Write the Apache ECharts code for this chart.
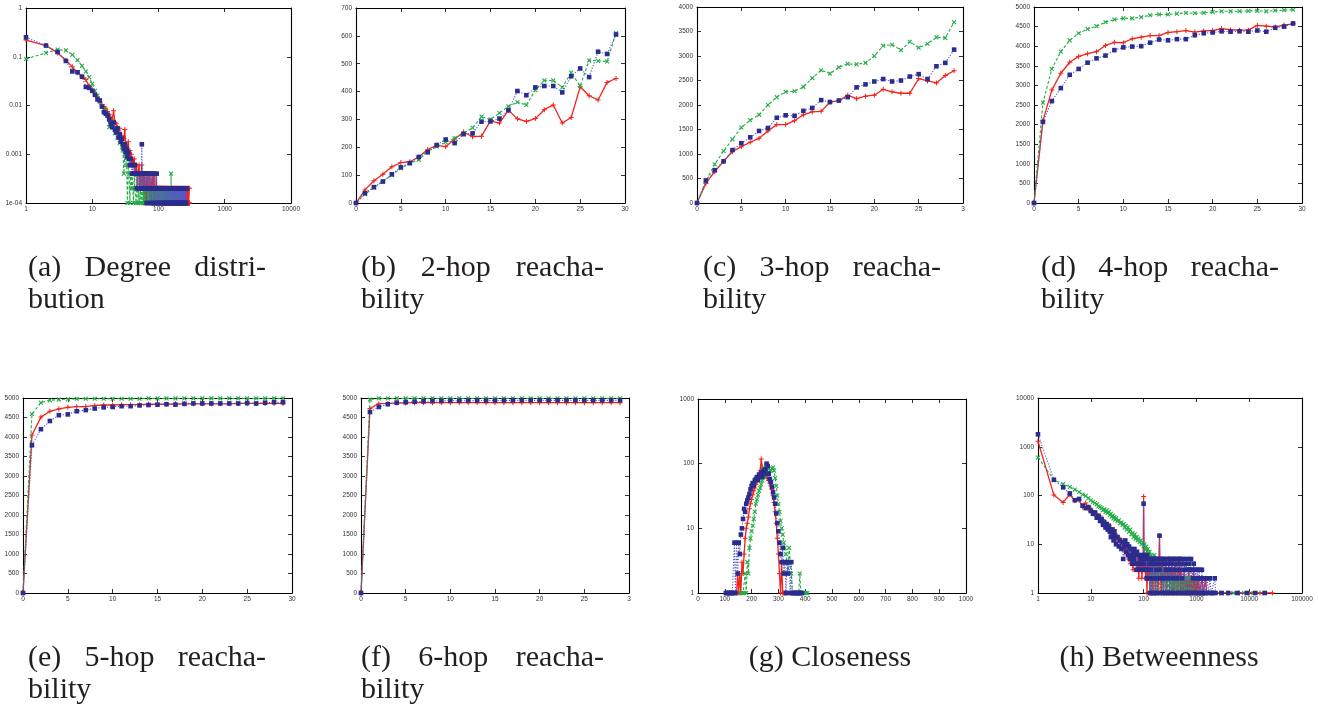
<!DOCTYPE html>
<html><head><meta charset="utf-8">
<script src="https://cdn.jsdelivr.net/npm/echarts@6/dist/echarts.min.js"></script>
<style>html,body{margin:0;padding:0;background:#fff}#c{width:1318px;height:711px}</style>
</head><body><div id="c"></div>
<script>
// ---------------- DATA ----------------
const hops = [0,1,2,3,4,5,6,7,8,9,10,11,12,13,14,15,16,17,18,19,20,21,22,23,24,25,26,27,28,29];

const reach2Red   = [0,47,80,103,130,145,148,165,192,207,202,230,255,238,240,295,287,333,302,293,303,335,352,287,307,417,385,370,433,447];
const reach2Green = [0,32,55,78,100,125,143,155,185,203,218,232,250,270,310,300,323,347,362,352,405,440,440,415,468,420,512,510,508,610];
const reach2Blue  = [0,35,57,77,103,128,143,165,182,208,228,215,247,250,292,293,303,333,402,387,415,420,420,397,455,483,452,543,535,605];

const reach3Red   = [0,400,640,850,1050,1150,1240,1320,1470,1600,1600,1680,1800,1860,1870,2060,2090,2200,2130,2180,2200,2320,2270,2240,2240,2540,2490,2450,2600,2700];
const reach3Green = [0,450,790,1060,1300,1540,1690,1800,2000,2160,2270,2280,2370,2550,2710,2640,2770,2840,2830,2860,3000,3210,3230,3120,3290,3170,3250,3380,3370,3690];
const reach3Blue  = [0,460,670,850,1080,1220,1340,1470,1530,1740,1790,1780,1880,1940,2100,2060,2090,2160,2360,2420,2480,2530,2480,2500,2580,2630,2530,2790,2860,3130];

const reach4Red   = [0,2100,2880,3310,3590,3740,3810,3860,4020,4100,4090,4190,4230,4270,4270,4350,4370,4400,4360,4390,4400,4450,4420,4410,4410,4530,4510,4490,4540,4570];
const reach4Green = [0,2560,3420,3860,4150,4330,4440,4510,4610,4680,4710,4710,4740,4790,4810,4810,4830,4850,4840,4850,4870,4890,4890,4890,4900,4900,4890,4910,4920,4930];
const reach4Blue  = [0,2070,2600,2930,3270,3420,3580,3690,3760,3900,3970,3990,4000,4090,4170,4150,4180,4180,4280,4330,4350,4380,4370,4380,4370,4400,4370,4470,4500,4580];

const reach5Red   = [0,4050,4510,4660,4720,4760,4780,4780,4810,4820,4820,4830,4830,4830,4840,4840,4840,4850,4850,4850,4850,4850,4850,4850,4860,4860,4860,4860,4860,4860];
const reach5Green = [0,4590,4880,4940,4960,4970,4980,4980,4980,4980,4980,4980,4980,4980,4990,4990,4990,4990,4990,4990,4990,4990,4990,4990,4990,4990,4990,4990,4990,4990];
const reach5Blue  = [0,3790,4200,4410,4560,4580,4660,4690,4730,4760,4770,4790,4790,4810,4820,4830,4840,4830,4850,4860,4860,4860,4860,4860,4860,4870,4860,4880,4890,4890];

const reach6Red   = [0,4730,4855,4860,4870,4875,4880,4880,4880,4880,4880,4880,4880,4880,4880,4880,4880,4880,4880,4880,4880,4880,4880,4880,4880,4880,4880,4880,4880,4880];
const reach6Green = [0,4960,4990,4990,4990,4990,4990,4990,4990,4990,4990,4990,4990,4990,4990,4990,4990,4990,4990,4990,4990,4990,4990,4990,4990,4990,4990,4990,4990,4990];
const reach6Blue  = [0,4640,4770,4840,4880,4890,4905,4915,4920,4925,4930,4930,4930,4935,4935,4935,4935,4940,4940,4940,4940,4940,4940,4940,4940,4940,4940,4940,4940,4940];

// degree distribution: value for degree 1, 2, 3, ...
const degreeRed = [
0.22,0.17,0.12,0.085,0.062,0.047,0.04,0.034,0.025,0.021,
0.017,0.015,0.012,0.0105,0.0095,0.0088,0.0075,0.0066,0.0058,0.0052,
0.0078,0.0045,0.0042,0.0036,0.0031,0.0034,0.0022,0.0024,0.0019,0.0021,
0.0032,0.0014,0.0016,0.0012,0.0018,0.001,0.0012,8e-4,0.001,6e-4,
8e-4,6e-4,8e-4,4e-4,6e-4,4e-4,6e-4,2e-4,4e-4,4e-4,
6e-4,2e-4,4e-4,2e-4,4e-4,6e-4,2e-4,4e-4,2e-4,1e-4,
4e-4,2e-4,2e-4,1e-4,4e-4,2e-4,1e-4,2e-4,4e-4,2e-4,
2e-4,1e-4,2e-4,4e-4,2e-4,2e-4,1e-4,2e-4,2e-4,4e-4,
2e-4,1e-4,2e-4,2e-4,4e-4,2e-4,1e-4,2e-4,2e-4,1e-4,
2e-4,4e-4,2e-4,1e-4,2e-4,2e-4,1e-4,2e-4,2e-4,1e-4,
2e-4,2e-4,1e-4,2e-4,2e-4,2e-4,1e-4,2e-4,1e-4,2e-4,
2e-4,1e-4,2e-4,2e-4,1e-4,2e-4,2e-4,1e-4,1e-4,2e-4,
2e-4,1e-4,2e-4,1e-4,2e-4,2e-4,1e-4,1e-4,2e-4,1e-4,
2e-4,1e-4,1e-4,2e-4,1e-4,2e-4,1e-4,1e-4,2e-4,1e-4,
1e-4,2e-4,1e-4,2e-4,1e-4,1e-4,2e-4,1e-4,1e-4,2e-4,
1e-4,1e-4,2e-4,1e-4,2e-4,1e-4,1e-4,1e-4,2e-4,1e-4,
1e-4,2e-4,1e-4,1e-4,1e-4,2e-4,1e-4,1e-4,2e-4,1e-4,
1e-4,1e-4,2e-4,1e-4,1e-4,1e-4,2e-4,1e-4,1e-4,1e-4,
2e-4,1e-4,1e-4,1e-4,1e-4,2e-4,1e-4,1e-4,1e-4,2e-4,
1e-4,1e-4,1e-4,1e-4,2e-4,1e-4,1e-4,1e-4,1e-4,2e-4,
1e-4,1e-4,1e-4,2e-4,1e-4,1e-4,1e-4,1e-4,2e-4,1e-4,
1e-4,1e-4,1e-4,1e-4,2e-4,1e-4,1e-4,1e-4,1e-4,1e-4,
2e-4,1e-4,1e-4,1e-4,1e-4,1e-4,2e-4,1e-4,1e-4,1e-4,
1e-4,1e-4,2e-4,1e-4,1e-4,1e-4,1e-4,1e-4,2e-4,1e-4,
1e-4,1e-4,1e-4,1e-4,1e-4,2e-4,1e-4,1e-4,1e-4,1e-4,
1e-4,1e-4,2e-4,1e-4,1e-4,1e-4,1e-4,1e-4,1e-4,2e-4,
1e-4,1e-4,1e-4,1e-4,1e-4,1e-4,2e-4,1e-4,1e-4,1e-4,
1e-4,1e-4,1e-4,1e-4,1e-4,2e-4,1e-4,1e-4,1e-4,1e-4,
1e-4,1e-4,1e-4,1e-4,2e-4,1e-4,1e-4,1e-4,1e-4,1e-4,1e-4,2e-4];
const degreeGreen = [
0.09,0.12,0.14,0.135,0.11,0.085,0.065,0.05,0.038,0.028,
0.02,0.016,0.012,0.0095,0.0085,0.0072,0.006,0.0036,0.0048,0.0041,
0.0035,0.0027,0.0031,0.0022,0.0025,0.0017,0.0019,0.0014,0.0012,4e-4,
0.001,8e-4,6e-4,1e-4,6e-4,4e-4,1e-4,4e-4,2e-4,4e-4,
2e-4,1e-4,4e-4,2e-4,2e-4,1e-4,2e-4,4e-4,1e-4,2e-4,
2e-4,1e-4,2e-4,2e-4,1e-4,4e-4,2e-4,1e-4,2e-4,1e-4,
2e-4,2e-4,1e-4,2e-4,1e-4,2e-4,2e-4,1e-4,2e-4,1e-4,
1e-4,2e-4,2e-4,1e-4,2e-4,1e-4,2e-4,1e-4,2e-4,2e-4,
1e-4,2e-4,1e-4,2e-4,2e-4,1e-4,2e-4,1e-4,1e-4,2e-4,
2e-4,1e-4,2e-4,1e-4,2e-4,2e-4,1e-4,2e-4,1e-4,2e-4,
1e-4,2e-4,1e-4,2e-4,2e-4,1e-4,2e-4,1e-4,2e-4,1e-4,
2e-4,1e-4,2e-4,1e-4,1e-4,2e-4,1e-4,2e-4,1e-4,2e-4,
1e-4,2e-4,1e-4,2e-4,1e-4,1e-4,2e-4,1e-4,2e-4,1e-4,
1e-4,2e-4,1e-4,2e-4,1e-4,2e-4,1e-4,1e-4,2e-4,1e-4,
2e-4,1e-4,1e-4,2e-4,1e-4,2e-4,1e-4,1e-4,2e-4,1e-4,
1e-4,2e-4,1e-4,1e-4,4e-4,1e-4,1e-4,2e-4,1e-4,1e-4,
2e-4,1e-4,1e-4,1e-4,2e-4,1e-4,1e-4,2e-4,1e-4,1e-4,
1e-4,2e-4,1e-4,1e-4,1e-4,2e-4,1e-4,1e-4,1e-4,2e-4,
1e-4,1e-4,1e-4,2e-4,1e-4,1e-4,1e-4,1e-4,2e-4,1e-4,
1e-4,1e-4,2e-4,1e-4,1e-4,1e-4,1e-4,2e-4,1e-4,1e-4,
1e-4,1e-4,2e-4,1e-4,1e-4,1e-4,1e-4,1e-4,2e-4,1e-4,
1e-4,1e-4,1e-4,1e-4,2e-4,1e-4,1e-4,1e-4,1e-4,1e-4,1e-4,2e-4];
const degreeBlue = [
0.25,0.17,0.125,0.082,0.05,0.048,0.039,0.024,0.023,0.02,
0.0165,0.0133,0.0127,0.0095,0.0073,0.0068,0.0063,0.0052,0.0042,0.0036,
0.0045,0.0032,0.0028,0.0034,0.0022,0.0026,0.0018,0.0021,0.0016,0.0013,
0.0016,0.0011,0.0013,9e-4,0.0011,8e-4,6e-4,8e-4,6e-4,4e-4,
6e-4,4e-4,4e-4,6e-4,4e-4,4e-4,2e-4,4e-4,4e-4,2e-4,
4e-4,4e-4,2e-4,4e-4,2e-4,0.0016,4e-4,2e-4,4e-4,2e-4,
4e-4,2e-4,2e-4,4e-4,2e-4,1e-4,4e-4,2e-4,2e-4,4e-4,
2e-4,4e-4,2e-4,1e-4,2e-4,4e-4,2e-4,2e-4,1e-4,2e-4,
4e-4,2e-4,2e-4,1e-4,2e-4,2e-4,4e-4,1e-4,2e-4,2e-4,
2e-4,1e-4,2e-4,4e-4,2e-4,2e-4,1e-4,2e-4,2e-4,1e-4,
2e-4,2e-4,2e-4,1e-4,2e-4,2e-4,2e-4,2e-4,1e-4,2e-4,
2e-4,2e-4,1e-4,2e-4,2e-4,2e-4,2e-4,1e-4,2e-4,2e-4,
1e-4,2e-4,2e-4,2e-4,2e-4,1e-4,2e-4,2e-4,2e-4,1e-4,
2e-4,2e-4,2e-4,2e-4,1e-4,2e-4,2e-4,1e-4,2e-4,2e-4,
2e-4,2e-4,1e-4,2e-4,2e-4,2e-4,1e-4,2e-4,2e-4,2e-4,
2e-4,1e-4,2e-4,2e-4,2e-4,1e-4,2e-4,2e-4,2e-4,2e-4,
1e-4,2e-4,2e-4,1e-4,2e-4,2e-4,2e-4,2e-4,1e-4,2e-4,
2e-4,2e-4,1e-4,2e-4,2e-4,2e-4,2e-4,2e-4,1e-4,2e-4,
2e-4,1e-4,2e-4,2e-4,2e-4,2e-4,1e-4,2e-4,2e-4,2e-4,
1e-4,2e-4,2e-4,2e-4,2e-4,2e-4,1e-4,2e-4,2e-4,1e-4,
2e-4,2e-4,2e-4,2e-4,1e-4,2e-4,2e-4,2e-4,2e-4,1e-4,
2e-4,2e-4,2e-4,1e-4,2e-4,2e-4,2e-4,2e-4,2e-4,1e-4,
2e-4,2e-4,1e-4,2e-4,2e-4,2e-4,2e-4,1e-4,2e-4,2e-4,
2e-4,2e-4,2e-4,1e-4,2e-4,2e-4,2e-4,2e-4,1e-4,2e-4,
2e-4,2e-4,1e-4,2e-4,2e-4,2e-4,2e-4,2e-4,1e-4,2e-4,
2e-4,2e-4,2e-4,1e-4,2e-4,2e-4,2e-4,1e-4,2e-4,2e-4,
2e-4,1e-4,2e-4,2e-4,2e-4];

// closeness histogram: count per closeness bin (null = no node in bin)
const closenessBins = [104,108,112,116,120,124,128,132,136,140,144,148,152,156,160,164,168,172,176,180,184,188,192,196,200,204,208,212,216,220,224,228,232,236,240,244,248,252,256,260,264,268,272,276,280,284,288,292,296,300,304,308,312,316,320,324,328,332,336,340,344,348,352,356,360,364,368,372,376,380,384,388,392,396,400,404,408,412];
const closenessRed = [null,null,null,null,null,null,null,null,null,null,
1,2,1,2,
1,3,2,4,7,10,12,15,20,24,
28,33,38,42,48,52,58,65,78,118,
88,75,70,66,62,60,55,50,45,40,
32,25,18,12,7,4,2,1,3,1,
1,1,1,1,
null,null,null,null,null,null,null,null,null,null,null,null,null,null,null,null,null,null,null,null];
const closenessGreen = [null,null,null,null,null,null,null,null,null,null,null,null,null,null,
1,1,1,1,2,1,3,2,5,7,
9,11,14,18,24,28,33,38,42,48,
55,87,62,66,70,72,75,78,80,84,
88,78,60,45,32,24,18,13,10,8,
6,5,4,3,2,5,3,2,1,1,
1,1,1,1,1,2,1,1,1,1,1,1,1,
null];
const closenessBlue = [1,1,1,1,1,1,1,1,
6,1,6,2,6,4,
8,10,14,20,18,24,27,30,34,40,
45,50,46,55,58,62,56,68,64,72,
62,78,70,82,100,92,70,58,52,44,
36,30,24,17,12,9,6,4,3,5,
2,3,1,3,2,3,1,3,
1,1,1,1,1,1,1,1,1,1,
null,null,null,null,null,null];

// betweenness histogram: [betweenness, count]
const betweennessRed = [[1,1300],[2,102],[3,72],[4,105],[5,78],[6,80],[7,58],[8,70],[9,52],[10,55],[11,45],[12,40],[13,42],[14,35],[15,38],[16,30],[17,32],[18,25],[19,28],[20,22],[21,25],[22,20],[23,18],[24,22],[25,16],[26,18],[27,14],[28,20],[29,12],[30,15],[32,11],[34,14],[36,9],[38,12],[40,8],[42,10],[44,7],[46,9],[48,6],[50,8],[52,5],[54,7],[56,4],[58,6],[60,5],[63,3],[66,6],[69,4],[72,5],[75,3],[78,6],[81,2],[84,5],[87,3],[90,4],[93,2],[96,5],[98,3],[100,95],[103,3],[106,5],[109,2],[112,4],[116,1],[120,5],[124,2],[128,4],[132,1],[136,3],[140,5],[145,1],[150,4],[155,2],[160,5],[165,1],[170,3],[176,2],[182,4],[188,1],[194,3],[200,15],[206,2],[212,4],[219,1],[226,3],[233,5],[240,1],[248,3],[256,2],[264,4],[273,1],[282,3],[291,2],[300,5],[310,1],[320,3],[331,2],[342,4],[353,1],[365,3],[377,1],[390,4],[403,2],[417,1],[431,3],[446,1],[461,2],[477,5],[493,1],[510,3],[528,1],[546,2],[565,1],[584,3],[604,1],[625,2],[646,1],[668,2],[691,1],[715,3],[740,1],[766,2],[793,1],[820,2],[849,1],[879,3],[910,1],[942,2],[975,1],[1010,2],[1050,1],[1100,2],[1150,1],[1210,1],[1280,2],[1350,1],[1420,1],[1500,2],[1560,1],[2000,1],[2800,1],[4000,1],[6500,1],[10000,1],[16000,1],[27500,1]];
const betweennessGreen = [[1,600],[2,210],[3,172],[4,150],[5,132],[6,118],[7,105],[8,98],[9,88],[10,80],[11,74],[12,70],[13,66],[14,60],[15,58],[16,55],[17,50],[18,52],[19,46],[20,50],[21,44],[22,46],[23,40],[24,42],[25,37],[26,39],[27,34],[28,36],[29,32],[30,34],[32,30],[34,31],[36,27],[38,28],[40,25],[42,26],[44,22],[46,24],[48,20],[50,22],[53,18],[56,20],[59,16],[62,17],[65,14],[68,16],[71,13],[74,14],[77,12],[80,13],[84,11],[88,12],[92,10],[96,11],[100,9],[104,10],[108,8],[112,9],[116,7],[120,8],[125,6],[130,7],[135,1],[140,6],[145,2],[150,5],[155,1],[160,6],[166,2],[172,4],[178,1],[184,5],[190,2],[197,4],[204,1],[211,3],[218,2],[226,4],[234,1],[242,3],[250,2],[259,1],[268,3],[277,1],[287,2],[297,1],[307,3],[318,1],[329,2],[341,1],[353,2],[365,1],[378,3],[391,1],[405,2],[419,1],[434,2],[449,1],[465,2],[481,1],[498,2],[516,1],[534,2],[553,1],[572,2],[592,1],[613,2],[635,1],[657,1],[680,2],[704,1],[729,1],[755,2],[782,1],[810,1],[840,2],[870,1],[920,1],[980,2],[1040,1],[1100,1],[1200,1],[1300,1],[1500,1],[2000,1],[3000,1],[5000,1],[8000,1],[12000,1],[20000,1]];
const betweennessBlue = [[1,1800],[2,210],[3,147],[4,110],[5,80],[6,85],[7,62],[8,55],[9,58],[10,48],[11,42],[12,45],[13,35],[14,38],[15,30],[16,33],[17,25],[18,28],[19,22],[20,26],[21,20],[22,24],[23,18],[24,14],[25,20],[26,16],[27,12],[28,18],[29,15],[30,10],[32,14],[34,9],[36,12],[38,8],[40,11],[41,5],[43,9],[45,12],[47,7],[49,10],[51,6],[53,9],[55,5],[57,8],[59,6],[61,4],[63,7],[65,5],[67,8],[69,4],[71,6],[73,3],[75,7],[78,4],[81,6],[84,3],[87,5],[90,4],[93,6],[96,3],[98,5],[100,68],[102,4],[105,6],[108,3],[111,5],[114,2],[117,6],[120,3],[123,5],[126,2],[129,4],[132,1],[135,5],[138,3],[141,1],[144,4],[147,2],[150,5],[154,1],[158,4],[162,2],[166,5],[170,1],[174,3],[178,5],[182,1],[186,4],[190,2],[195,5],[200,15],[205,3],[210,1],[215,5],[220,2],[226,4],[232,1],[238,5],[244,2],[250,4],[257,1],[264,3],[271,5],[278,1],[286,4],[294,2],[302,5],[310,1],[319,3],[328,5],[337,1],[347,4],[357,2],[367,5],[378,1],[389,3],[400,5],[412,1],[424,4],[437,2],[450,5],[464,1],[478,3],[492,5],[507,1],[522,4],[538,2],[554,5],[571,1],[588,3],[606,4],[624,1],[643,3],[662,5],[682,1],[703,3],[724,4],[746,1],[768,3],[791,5],[815,1],[840,3],[865,2],[891,4],[918,1],[946,3],[975,2],[1004,1],[1034,3],[1065,1],[1097,2],[1130,3],[1164,1],[1199,2],[1235,1],[1272,3],[1310,1],[1350,2],[1390,1],[1450,2],[1520,1],[1600,2],[1700,1],[1800,2],[1900,1],[2050,1],[2230,2],[2300,1],[3000,1],[4000,1],[6000,1],[9000,1],[13000,1],[19600,1]];

// tick labels
const degreeXTicks = ['1','10','100','1000','10000'];
const degreeYTicks = ['1e-04','0.001','0.01','0.1','1'];
const closenessYTicks = ['1','10','100','1000'];
const betweennessXTicks = ['1','10','100','1000','10000','100000'];
const betweennessYTicks = ['1','10','100','1000','10000'];

// captions
const captionTexts = [
  [['(a)','Degree','distri-'],'bution'],
  [['(b)','2-hop','reacha-'],'bility'],
  [['(c)','3-hop','reacha-'],'bility'],
  [['(d)','4-hop','reacha-'],'bility'],
  [['(e)','5-hop','reacha-'],'bility'],
  [['(f)','6-hop','reacha-'],'bility'],
  [['(g) Closeness'],null],
  [['(h) Betweenness'],null]
];

// ---------------- LAYOUT / STYLE ----------------
const gridBoxes = [
  [26,8,265,195],[356,8,269,195],[697,7,266,196],[1034,7,268,196],
  [23,398,269,195],[361,398,268,195],[698,399,268,194],[1038,398,264,195]
];
const captionBoxes = [
  [28,266,268],[361,604,268],[703,941,268],[1041,1279,268],
  [28,266,658],[361,604,658],[830,830,658],[1159,1159,658]
];
const COL = {red:'#f2231b', green:'#24ad47', blueMark:'#2a2c8e', blueLine:'#5557c8'};
const plusPath = 'path://M4,0H6V4H10V6H6V10H4V6H0V4H4Z';
const squarePath = 'path://M0,0H10V10H0Z';

const grids = [], xAxes = [], yAxes = [], series = [];
const tickFont = {fontSize:6.5, color:'#333', fontFamily:'Liberation Sans'};
const plainNum = v => String(Math.round(v));

function mkAxis(dim, gi, cfg, mirror){
  const a = {
    gridIndex: gi,
    type: cfg.type,
    min: cfg.min, max: cfg.max,
    position: dim === 'x' ? (mirror ? 'top' : 'bottom') : (mirror ? 'right' : 'left'),
    axisLine: {show:true, onZero:false, lineStyle:{color:'#000', width:1.1}},
    axisTick: {show:true, inside:true, length:4, lineStyle:{color:'#000', width:0.8}},
    splitLine: {show:false},
    minorTick: {show:false},
    axisLabel: Object.assign({show: !mirror, margin: dim==='x'?3:4, showMinLabel:true, showMaxLabel:true, hideOverlap:false}, tickFont),
    silent: true
  };
  if (cfg.type === 'log') { a.logBase = 10; }
  else { a.interval = cfg.interval; }
  a.axisLabel.formatter = cfg.fmt || plainNum;
  return a;
}
function logLabels(labels, minExp){ return v => { const e = Math.round(Math.log10(v)); return labels[e - minExp] ?? ''; }; }

function addPanel(gi, xc, yc, seriesList){
  const b = gridBoxes[gi];
  grids.push({left:b[0], top:b[1], width:b[2], height:b[3], containLabel:false, outerBoundsMode:'none', show:false});
  xAxes.push(mkAxis('x', gi, xc, false)); xAxes.push(mkAxis('x', gi, xc, true));
  yAxes.push(mkAxis('y', gi, yc, false)); yAxes.push(mkAxis('y', gi, yc, true));
  const ai = xAxes.length - 2;
  seriesList.forEach(s => { s.xAxisIndex = ai; s.yAxisIndex = ai; series.push(s); });
}
function redS(data){ return {type:'line', data, symbol:plusPath, symbolSize:5, symbolKeepAspect:true, itemStyle:{color:COL.red}, lineStyle:{color:COL.red, width:1.3}, z:2, animation:false, silent:true}; }
function greenS(data){ return {type:'line', data, symbol:plusPath, symbolRotate:45, symbolSize:5.5, symbolKeepAspect:true, itemStyle:{color:COL.green}, lineStyle:{color:COL.green, width:1.1, type:[3,2]}, z:3, animation:false, silent:true}; }
function blueS(data){ return {type:'line', data, symbol:squarePath, symbolSize:4.6, symbolKeepAspect:true, itemStyle:{color:COL.blueMark}, lineStyle:{color:COL.blueLine, width:1.1, type:[1.2,1.6]}, z:4, animation:false, silent:true}; }

const byHop = arr => hops.map((h,i) => [h, arr[i]]);
const byDegree = arr => arr.map((v,i) => [i+1, v]);
const byBin = arr => closenessBins.map((b,i) => [b, arr[i]]).filter(p => p[1] != null);

const hopX = {type:'value', min:0, max:30, interval:5};
const hopXcut = {type:'value', min:0, max:30, interval:5, fmt: v => v === 30 ? '3' : String(v)};

addPanel(0, {type:'log', min:1, max:10000, fmt: logLabels(degreeXTicks, 0)},
            {type:'log', min:1e-4, max:1, fmt: logLabels(degreeYTicks, -4)},
            [redS(byDegree(degreeRed)), greenS(byDegree(degreeGreen)), blueS(byDegree(degreeBlue))]);
addPanel(1, hopX, {type:'value', min:0, max:700, interval:100},
            [redS(byHop(reach2Red)), greenS(byHop(reach2Green)), blueS(byHop(reach2Blue))]);
addPanel(2, hopXcut, {type:'value', min:0, max:4000, interval:500},
            [redS(byHop(reach3Red)), greenS(byHop(reach3Green)), blueS(byHop(reach3Blue))]);
addPanel(3, hopX, {type:'value', min:0, max:5000, interval:500},
            [redS(byHop(reach4Red)), greenS(byHop(reach4Green)), blueS(byHop(reach4Blue))]);
addPanel(4, hopX, {type:'value', min:0, max:5000, interval:500},
            [redS(byHop(reach5Red)), greenS(byHop(reach5Green)), blueS(byHop(reach5Blue))]);
addPanel(5, hopXcut, {type:'value', min:0, max:5000, interval:500},
            [redS(byHop(reach6Red)), greenS(byHop(reach6Green)), blueS(byHop(reach6Blue))]);
addPanel(6, {type:'value', min:0, max:1000, interval:100},
            {type:'log', min:1, max:1000, fmt: logLabels(closenessYTicks, 0)},
            [redS(byBin(closenessRed)), greenS(byBin(closenessGreen)), blueS(byBin(closenessBlue))]);
addPanel(7, {type:'log', min:1, max:100000, fmt: logLabels(betweennessXTicks, 0)},
            {type:'log', min:1, max:10000, fmt: logLabels(betweennessYTicks, 0)},
            [redS(betweennessRed), greenS(betweennessGreen), blueS(betweennessBlue)]);

// captions (justified first line like the source document)
const capFont = '30px "Liberation Serif"';
const mctx = document.createElement('canvas').getContext('2d');
mctx.font = capFont;
const graphics = [];
captionTexts.forEach((c, i) => {
  const [l, r, y] = captionBoxes[i];
  const words = c[0];
  if (words.length === 1) {
    graphics.push({type:'text', x:l, y:y, style:{text:words[0], font:capFont, fill:'#231f20', textAlign:'center', textVerticalAlign:'middle'}, silent:true});
  } else {
    const widths = words.map(w => mctx.measureText(w).width);
    const gap = (r - l - widths.reduce((a,b)=>a+b,0)) / (words.length - 1);
    let x = l;
    words.forEach((w, k) => {
      graphics.push({type:'text', x:x, y:y, style:{text:w, font:capFont, fill:'#231f20', textAlign:'left', textVerticalAlign:'middle'}, silent:true});
      x += widths[k] + gap;
    });
    if (c[1]) graphics.push({type:'text', x:l, y:y+32, style:{text:c[1], font:capFont, fill:'#231f20', textAlign:'left', textVerticalAlign:'middle'}, silent:true});
  }
});

const chart = echarts.init(document.getElementById('c'), null, {renderer:'canvas'});
chart.setOption({
  animation:false,
  backgroundColor:'#fff',
  grid: grids, xAxis: xAxes, yAxis: yAxes, series: series,
  graphic: {elements: graphics},
  tooltip: {show:false}
});
</script></body></html>
